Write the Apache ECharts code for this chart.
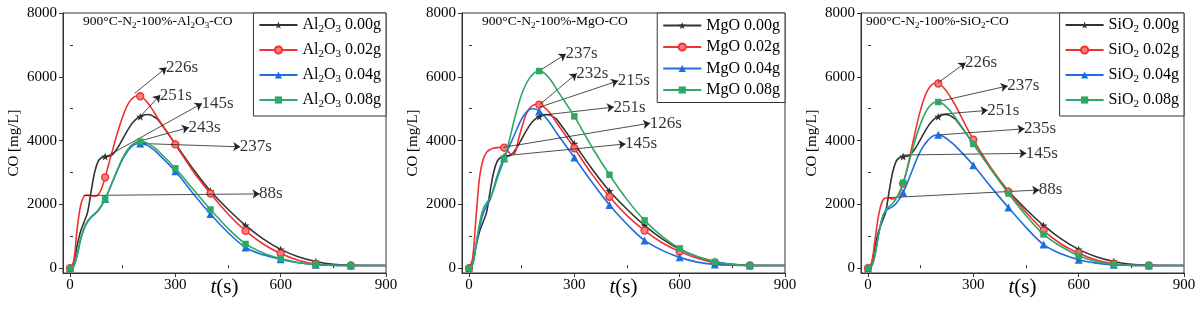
<!DOCTYPE html>
<html>
<head>
<meta charset="utf-8">
<script src="https://cdn.jsdelivr.net/npm/echarts@6/dist/echarts.min.js"></script>
<style>html,body{margin:0;padding:0;background:#fff}#c{width:1200px;height:322px}</style>
</head>
<body>
<div id="c"></div>
<script>
// ---------------- DATA ----------------
const times = [0,10,20,30,40,50,60,70,80,90,100,110,120,130,140,150,160,170,180,190,200,210,220,230,240,250,300,350,400,450,500,550,600,650,700,750,800,850,900];
const markerTimes = [0,100,200,300,400,500,600,700,800];

const base000 = [0,150,700,1150,1450,1750,2400,3000,3350,3470,3500,3510,3550,3680,3850,4050,4250,4430,4580,4690,4750,4800,4820,4800,4740,4660,3900,3120,2420,1850,1340,920,590,360,210,120,90,85,85];

const al002 = [0,200,1200,1950,2260,2290,2270,2250,2300,2500,2850,3250,3650,4050,4420,4750,5030,5230,5350,5400,5390,5320,5200,5050,4880,4700,3880,3050,2340,1700,1170,760,460,250,130,95,85,85,85];
const al004 = [0,50,380,880,1230,1450,1590,1690,1800,1960,2170,2420,2680,2940,3190,3420,3600,3750,3850,3900,3910,3890,3850,3780,3700,3600,3040,2350,1700,1120,650,420,280,170,110,90,85,85,85];
const al008 = [0,60,420,920,1260,1480,1610,1710,1820,1980,2160,2420,2690,2960,3220,3460,3650,3800,3900,3960,3970,3960,3920,3860,3780,3690,3130,2480,1840,1250,760,480,300,180,115,90,85,85,85];

const mg002 = [0,300,1600,2850,3400,3630,3720,3760,3780,3790,3780,3680,3580,3600,4000,4400,4750,4980,5090,5130,5130,5080,4990,4870,4720,4550,3760,2950,2240,1650,1180,800,520,310,170,110,85,85,85];
const mg004 = [0,100,700,1300,1700,1950,2150,2500,2880,3200,3450,3700,3950,4200,4450,4680,4850,4960,5000,4990,4920,4820,4700,4560,4400,4230,3470,2700,1980,1380,870,560,340,190,120,95,85,85,85];
const mg008 = [0,100,750,1400,1850,2050,2200,2450,2800,3100,3420,3800,4250,4700,5100,5450,5720,5920,6060,6150,6180,6150,6060,5940,5780,5600,4760,3800,2930,2150,1500,1000,620,370,200,120,85,85,85];

const si002 = [0,150,900,1650,2080,2200,2200,2170,2200,2350,2650,3050,3550,4050,4550,4980,5330,5580,5730,5800,5790,5720,5600,5450,5270,5080,4030,3150,2400,1750,1180,760,470,260,140,95,85,85,85];
const si004 = [0,60,420,1050,1550,1800,1870,1930,2030,2180,2370,2620,2900,3180,3450,3680,3860,4000,4110,4170,4180,4150,4090,4010,3920,3820,3230,2550,1900,1280,740,450,265,160,105,90,85,85,85];
const si008 = [0,60,420,1050,1550,1820,1930,2030,2180,2400,2680,3050,3450,3850,4220,4540,4800,5000,5130,5200,5210,5170,5090,4980,4850,4700,3900,3100,2340,1650,1060,680,390,210,115,90,85,85,85];

const panelTitles = ['900°C-N{sub|2}-100%-Al{sub|2}O{sub|3}-CO', '900°C-N{sub|2}-100%-MgO-CO', '900°C-N{sub|2}-100%-SiO{sub|2}-CO'];
const oxides = ['Al2O3', 'MgO', 'SiO2'];
const masses = ['0.00g', '0.02g', '0.04g', '0.08g'];
const panelSeries = [
  [base000, al002, al004, al008],
  [base000, mg002, mg004, mg008],
  [base000, si002, si004, si008]
];

// annotations: [label, fromX, fromY, toX, toY]
const notes1 = [
  ['226s', 184, 5480, 275, 6295],
  ['251s', 201, 4768, 257, 5427],
  ['145s', 102, 3490, 376, 5166],
  ['243s', 201, 3993, 339, 4413],
  ['237s', 201, 3910, 485, 3805],
  ['88s', 40, 2280, 540, 2330]
];
const notes2 = [
  ['237s', 207, 6233, 276, 6716],
  ['232s', 202, 5137, 307, 6107],
  ['215s', 202, 5052, 425, 5873],
  ['251s', 202, 4790, 413, 5052],
  ['126s', 98, 3790, 516, 4547],
  ['145s', 102, 3527, 446, 3896]
];
const notes3 = [
  ['226s', 199, 5810, 278, 6442],
  ['237s', 204, 5232, 398, 5715],
  ['251s', 204, 4822, 341, 4948],
  ['235s', 204, 4181, 446, 4370],
  ['145s', 99, 3549, 451, 3600],
  ['88s', 56, 2210, 488, 2453]
];
const panelNotes = [notes1, notes2, notes3];

const xTicks = [0, 300, 600, 900];
const xMinor = [150, 450, 750];
const yTicks = [0, 2000, 4000, 6000, 8000];
const yMinor = [1000, 3000, 5000, 7000];

// ---------------- STYLE ----------------
const FONT = "'Liberation Serif','Times New Roman',serif";
const colors = ['#333333', '#ee3232', '#1e6ee0', '#2ea865'];
const symbols = ['path://M0,-10 L2.35,-3.24 L9.51,-3.09 L3.8,1.24 L5.88,8.09 L0,4 L-5.88,8.09 L-3.8,1.24 L-9.51,-3.09 L-2.35,-3.24 Z', 'circle', 'triangle', 'rect'];
const symSizes = [8, 7, 8, 6.5];
const gridLeft = [63, 462, 861];
const GW = 323, GT = 13, GH = 260;
const legendRight = [386, 785, 1184];

function fmtName(n) {
  return n.replace(/([A-Za-z])(\d)/g, '$1{sub|$2}');
}

const option = {
  animation: false,
  backgroundColor: '#fff',
  grid: [], xAxis: [], yAxis: [], series: [], legend: [], title: []
};

const subRich = (fs) => ({ sub: { fontSize: fs, lineHeight: fs, verticalAlign: 'bottom', fontFamily: FONT, color: '#000' } });
const plain = v => String(v);

for (let g = 0; g < 3; g++) {
  option.grid.push({ left: gridLeft[g], top: GT, width: GW, height: GH, show: true, borderColor: '#333', borderWidth: 1, backgroundColor: 'transparent' });
  option.xAxis.push({
    type: 'value', gridIndex: g, min: -20, max: 900, position: 'bottom',
    axisLine: { show: true, onZero: false, lineStyle: { color: '#333', width: 1 } },
    axisTick: { show: true, customValues: xTicks, length: 4, inside: false, lineStyle: { color: '#333' } },
    axisLabel: { customValues: xTicks, formatter: plain, margin: 5, fontSize: 15, color: '#000', fontFamily: FONT },
    splitLine: { show: false },
    name: '{it|t}{n|(s)}', nameLocation: 'middle', nameGap: 4, nameMoveOverlap: false,
    nameTextStyle: { fontFamily: FONT, fontSize: 21, color: '#000',
      rich: { it: { fontStyle: 'italic', fontSize: 21, fontFamily: FONT, color: '#000' }, n: { fontSize: 21, fontFamily: FONT, color: '#000' } } }
  });
  option.xAxis.push({
    type: 'value', gridIndex: g, min: -20, max: 900, position: 'bottom',
    axisLine: { show: false }, axisLabel: { show: false }, splitLine: { show: false },
    axisTick: { show: true, inside: true, length: 3, customValues: xMinor, lineStyle: { color: '#333' } }
  });
  option.yAxis.push({
    type: 'value', gridIndex: g, min: -150, max: 8000, position: 'left',
    axisLine: { show: true, onZero: false, lineStyle: { color: '#333', width: 1 } },
    axisTick: { show: true, customValues: yTicks, length: 4, inside: false, lineStyle: { color: '#333' } },
    axisLabel: { customValues: yTicks, formatter: plain, margin: 6, fontSize: 15, color: '#000', fontFamily: FONT },
    splitLine: { show: false },
    name: 'CO [mg/L]', nameLocation: 'middle', nameGap: 41, nameMoveOverlap: false,
    nameTextStyle: { fontFamily: FONT, fontSize: 15, color: '#000' }
  });
  option.yAxis.push({
    type: 'value', gridIndex: g, min: -150, max: 8000, position: 'left',
    axisLine: { show: false }, axisLabel: { show: false }, splitLine: { show: false },
    axisTick: { show: true, inside: true, length: 3, customValues: yMinor, lineStyle: { color: '#333' } }
  });

  option.title.push({
    text: panelTitles[g], left: gridLeft[g] + (g === 2 ? 5 : 20), top: 13, padding: 0,
    textStyle: { fontFamily: FONT, fontSize: 13.5, fontWeight: 'normal', color: '#000', lineHeight: 17, rich: subRich(9) }
  });

  const names = masses.map(m => oxides[g] + ' ' + m);
  const hasSub = g !== 1;
  option.legend.push({
    data: names, orient: 'vertical', right: 1200 - legendRight[g], top: GT,
    itemWidth: 38, itemHeight: 9, itemGap: hasSub ? 5 : 4.5,
    padding: hasSub ? [2, 5, 6, 5] : [4, 5, 4, 5],
    borderColor: '#333', borderWidth: 1, backgroundColor: '#fff',
    formatter: fmtName,
    textStyle: { fontFamily: FONT, fontSize: 16, color: '#000', lineHeight: hasSub ? 20 : 17, rich: subRich(11) }
  });

  panelSeries[g].forEach((vals, k) => {
    const sym = symbols[k];
    option.series.push({
      type: 'line', name: names[k], xAxisIndex: 2 * g, yAxisIndex: 2 * g,
      smooth: 0.35, showAllSymbol: true, symbol: sym, symbolSize: symSizes[k],
      lineStyle: { color: colors[k], width: 1.6 },
      itemStyle: k === 1 ? { color: '#ff7a7a', borderColor: colors[k], borderWidth: 1.3 } : { color: colors[k] },
      emphasis: { disabled: true },
      z: 2 + k,
      data: times.map((t, i) => ({ value: [t, vals[i]], symbol: markerTimes.indexOf(t) >= 0 ? sym : 'none' }))
    });
  });

  const notes = panelNotes[g];
  option.series.push({
    type: 'scatter', name: 'notes' + g, xAxisIndex: 2 * g, yAxisIndex: 2 * g,
    symbolSize: 1, itemStyle: { color: 'rgba(0,0,0,0)' }, z: 10,
    emphasis: { disabled: true }, silent: true,
    label: { show: true, position: 'right', distance: -1, formatter: '{b}', fontFamily: FONT, fontSize: 17, color: '#000' },
    data: notes.map(n => ({ name: n[0], value: [n[3], n[4]] })),
    markLine: {
      silent: true, symbol: ['none', 'arrow'], symbolSize: 7, animation: false,
      lineStyle: { color: '#222', width: 0.8, type: 'solid' },
      label: { show: false }, emphasis: { disabled: true },
      data: notes.map(n => [{ coord: [n[1], n[2]] }, { coord: [n[3], n[4]] }])
    }
  });
}

const chart = echarts.init(document.getElementById('c'), null, { renderer: 'canvas' });
chart.setOption(option);
</script>
</body>
</html>
